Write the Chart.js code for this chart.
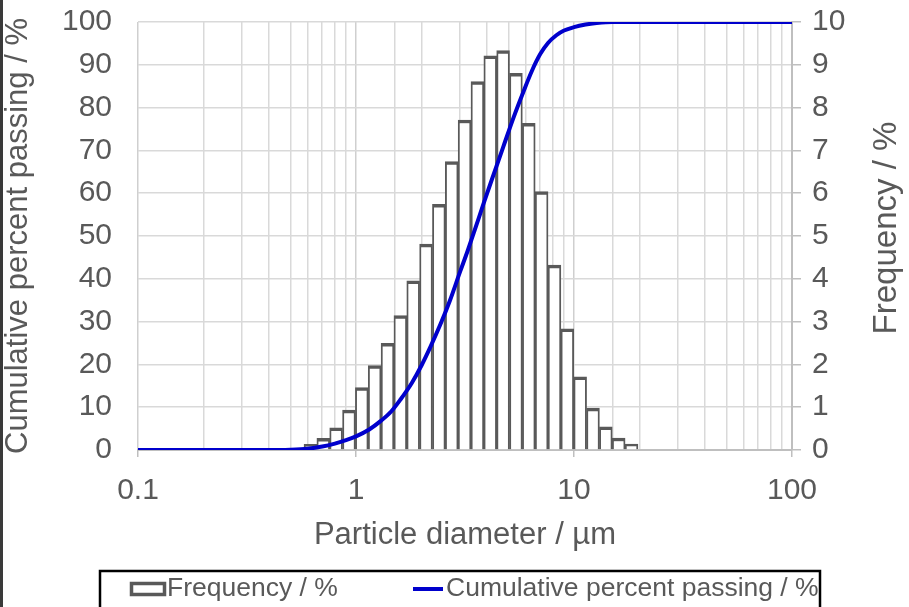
<!DOCTYPE html>
<html lang="en">
<head>
    <meta charset="UTF-8" />
    <title>Particle size distribution</title>
    <script src="https://cdn.jsdelivr.net/npm/chart.js"></script>
    <style>
        html, body { margin: 0; padding: 0; background: #fff; overflow: hidden; }
        #wrap { position: relative; width: 909px; height: 607px; }
        #edge { position: absolute; left: 0; top: 0; width: 3px; height: 607px; background: #3a3a3a; }
    </style>
</head>
<body>
<div id="wrap">
    <canvas id="psdChart" width="909" height="607"></canvas>
    <div id="edge"></div>
</div>

<script>
    // histogram bins (geometric centres, µm) and frequency in each bin (%)
    const binCenters = [0.6180, 0.7078, 0.8106, 0.9284, 1.0633, 1.2178, 1.3947, 1.5974,
        1.8295, 2.0953, 2.3997, 2.7484, 3.1477, 3.6051, 4.1289, 4.7289, 5.4160,
        6.2029, 7.1042, 8.1364, 9.3186, 10.673, 12.223, 13.999, 16.034, 18.363];
    const frequency = [0.13, 0.27, 0.52, 0.93, 1.46, 1.97, 2.49, 3.14, 3.95, 4.81, 5.74,
        6.74, 7.71, 8.61, 9.21, 9.33, 8.80, 7.63, 6.04, 4.32, 2.83, 1.71, 0.98, 0.54, 0.28, 0.14];

    // cumulative curve
    const cumDiameter = [0.1, 0.3, 0.45, 0.5, 0.6, 0.7, 0.8, 0.9, 1.0, 1.15, 1.3, 1.45, 1.6,
        1.8, 2.0, 2.2, 2.45, 2.7, 3.0, 3.25, 3.5, 3.85, 4.2, 4.75, 5.3, 5.85, 6.4, 7.0,
        7.6, 8.3, 9.0, 10, 11.3, 12.7, 15, 20, 50, 100];
    const cumPassing = [0, 0, 0, 0.05, 0.3, 0.8, 1.5, 2.3, 3.2, 4.8, 6.8, 9.0, 11.8,
        15.6, 19.8, 24.2, 29.6, 35.0, 41.6, 46.5, 51.3, 57.6, 63.2, 71.0, 77.9, 83.6, 88.5, 92.5,
        95.1, 96.9, 98.0, 98.8, 99.4, 99.75, 100, 100, 100, 100];

    const FONT = "'Liberation Sans', Arial, sans-serif";
    const TEXT = '#595959';

    const isDecade = v => {
        const l = Math.log10(v);
        return Math.abs(l - Math.round(l)) < 1e-6;
    };

    // legend box + right-hand title (Excel style, reads bottom to top)
    const extras = {
        id: 'extras',
        afterDraw(chart) {
            const c = chart.ctx;
            const bars = chart.data.datasets[0];
            const line = chart.data.datasets[1];
            c.save();
            c.strokeStyle = '#000';
            c.lineWidth = 2.5;
            c.strokeRect(100, 571, 720, 60);

            c.fillStyle = '#fff';
            c.strokeStyle = bars.borderColor;
            c.lineWidth = 3.5;
            c.fillRect(131.5, 583.5, 33, 11);
            c.strokeRect(131.5, 583.5, 33, 11);

            c.font = '26.5px ' + FONT;
            c.fillStyle = TEXT;
            c.textAlign = 'left';
            c.textBaseline = 'middle';
            c.fillText(bars.label, 167, 589);

            c.strokeStyle = line.borderColor;
            c.lineWidth = line.borderWidth;
            c.beginPath();
            c.moveTo(413, 589);
            c.lineTo(443, 589);
            c.stroke();
            c.fillText(line.label, 446, 589);

            c.translate(887, 228);
            c.rotate(-Math.PI / 2);
            c.textAlign = 'center';
            c.font = '33px ' + FONT;
            c.fillText('Frequency / %', 0, 0);
            c.restore();
        }
    };

    // fixed axis sizes, no extra label overflow padding
    const fixWidth = w => s => {
        s.width = w;
        s.paddingTop = 0;
        s.paddingBottom = 0;
    };

    const ctx = document.getElementById('psdChart').getContext('2d');

    new Chart(ctx, {
        type: 'bar',
        data: {
            datasets: [{
                type: 'bar',
                label: 'Frequency / %',
                data: binCenters.map((d, i) => ({ x: d, y: frequency[i] })),
                yAxisID: 'y2',
                backgroundColor: '#ffffff',
                borderColor: '#595959',
                borderWidth: { top: 3.5, left: 1.9, right: 1.9, bottom: 0 },
                barThickness: 'flex',
                barPercentage: 1,
                categoryPercentage: 1,
                order: 2
            }, {
                type: 'line',
                label: 'Cumulative percent passing / %',
                data: cumDiameter.map((d, i) => ({ x: d, y: cumPassing[i] })),
                yAxisID: 'y',
                borderColor: '#0000CC',
                borderWidth: 4,
                pointRadius: 0,
                cubicInterpolationMode: 'monotone',
                fill: false,
                order: 1
            }]
        },
        options: {
            responsive: false,
            animation: false,
            layout: { padding: { top: 22, bottom: 36, left: 0, right: 0 } },
            plugins: {
                legend: { display: false },
                tooltip: { enabled: false }
            },
            scales: {
                x: {
                    type: 'logarithmic',
                    min: 0.1,
                    max: 100,
                    offset: false,
                    afterFit: s => { s.height = 121; },
                    grid: {
                        offset: false,
                        color: c => isDecade(c.tick.value) ? '#CFCFCF' : '#D9D9D9',
                        lineWidth: 1.5,
                        tickLength: 7,
                        tickColor: c => isDecade(c.tick.value) ? '#BFBFBF' : 'rgba(0,0,0,0)'
                    },
                    border: { color: '#BFBFBF', width: 2 },
                    ticks: {
                        autoSkip: false,
                        maxRotation: 0,
                        color: TEXT,
                        font: { family: FONT, size: 30 },
                        padding: 16,
                        callback: v => isDecade(v) ? String(v) : ''
                    },
                    title: {
                        display: true,
                        text: 'Particle diameter / µm',
                        color: TEXT,
                        font: { family: FONT, size: 31 },
                        padding: { top: 0, bottom: 17 }
                    }
                },
                y: {
                    position: 'left',
                    min: 0,
                    max: 100,
                    afterFit: fixWidth(138),
                    grid: { color: '#D9D9D9', lineWidth: 1.5, drawTicks: false },
                    border: { display: false },
                    ticks: {
                        stepSize: 10,
                        color: TEXT,
                        font: { family: FONT, size: 30 },
                        padding: 26
                    },
                    title: {
                        display: true,
                        text: 'Cumulative percent passing / %',
                        color: TEXT,
                        font: { family: FONT, size: 31 },
                        padding: { top: 0, bottom: 0 }
                    }
                },
                y2: {
                    position: 'right',
                    min: 0,
                    max: 10,
                    afterFit: fixWidth(117),
                    grid: { drawOnChartArea: false, tickLength: 9, tickColor: '#BFBFBF', lineWidth: 1.5 },
                    border: { color: '#BFBFBF', width: 2 },
                    ticks: {
                        stepSize: 1,
                        color: TEXT,
                        font: { family: FONT, size: 30 },
                        padding: 11
                    }
                }
            }
        },
        plugins: [extras]
    });
</script>
</body>
</html>
